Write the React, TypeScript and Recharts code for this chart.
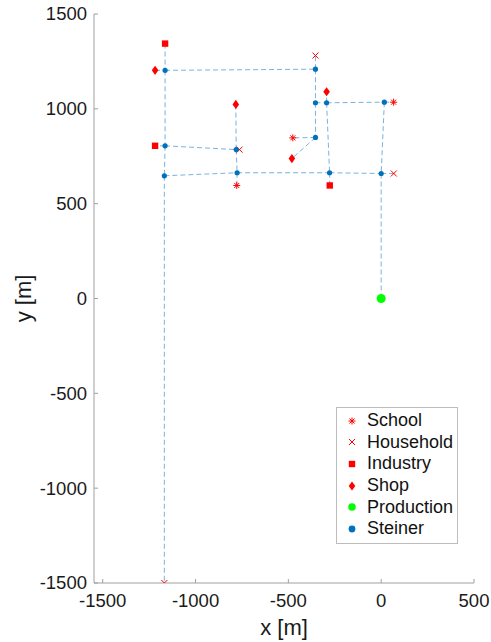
import React from "react";
import { ScatterChart, Scatter, XAxis, YAxis, Legend } from "recharts";

type Pt = { x: number; y: number };

// node positions [m]
const schoolPts: Pt[] = [
  { x: -778, y: 596 },
  { x: -476, y: 847 },
  { x: 67, y: 1035 },
];
const householdPts: Pt[] = [
  { x: -763, y: 785 },
  { x: -354, y: 1281 },
  { x: 68, y: 659 },
  { x: -1168, y: -1500 },
];
const industryPts: Pt[] = [
  { x: -1164, y: 1344 },
  { x: -1218, y: 805 },
  { x: -277, y: 596 },
];
const shopPts: Pt[] = [
  { x: -1218, y: 1203 },
  { x: -783, y: 1023 },
  { x: -294, y: 1090 },
  { x: -481, y: 738 },
];
const productionPts: Pt[] = [{ x: 0, y: 0 }];
const steinerPts: Pt[] = [
  { x: -1164, y: 1203 },
  { x: -1164, y: 805 },
  { x: -1168, y: 647 },
  { x: -781, y: 785 },
  { x: -776, y: 663 },
  { x: -354, y: 1209 },
  { x: -354, y: 1032 },
  { x: -294, y: 1032 },
  { x: 17, y: 1035 },
  { x: -354, y: 849 },
  { x: -278, y: 663 },
  { x: 0, y: 659 },
];

// tree edges, each one [from, to]
const edges: [Pt, Pt][] = [
  [{ x: -1164, y: 1344 }, { x: -1164, y: 1203 }],
  [{ x: -1218, y: 1203 }, { x: -1164, y: 1203 }],
  [{ x: -1164, y: 1203 }, { x: -354, y: 1209 }],
  [{ x: -1164, y: 1203 }, { x: -1164, y: 805 }],
  [{ x: -1164, y: 805 }, { x: -1218, y: 805 }],
  [{ x: -1164, y: 805 }, { x: -781, y: 785 }],
  [{ x: -1164, y: 805 }, { x: -1168, y: 647 }],
  [{ x: -1168, y: 647 }, { x: -776, y: 663 }],
  [{ x: -1168, y: 647 }, { x: -1168, y: -1500 }],
  [{ x: -781, y: 785 }, { x: -763, y: 785 }],
  [{ x: -781, y: 785 }, { x: -783, y: 1023 }],
  [{ x: -781, y: 785 }, { x: -776, y: 663 }],
  [{ x: -776, y: 663 }, { x: -778, y: 596 }],
  [{ x: -776, y: 663 }, { x: -278, y: 663 }],
  [{ x: -354, y: 1209 }, { x: -354, y: 1281 }],
  [{ x: -354, y: 1209 }, { x: -354, y: 1032 }],
  [{ x: -354, y: 1032 }, { x: -294, y: 1032 }],
  [{ x: -354, y: 1032 }, { x: -354, y: 849 }],
  [{ x: -354, y: 849 }, { x: -476, y: 847 }],
  [{ x: -354, y: 849 }, { x: -481, y: 738 }],
  [{ x: -294, y: 1032 }, { x: -294, y: 1090 }],
  [{ x: -294, y: 1032 }, { x: 17, y: 1035 }],
  [{ x: -294, y: 1032 }, { x: -278, y: 663 }],
  [{ x: 17, y: 1035 }, { x: 67, y: 1035 }],
  [{ x: 17, y: 1035 }, { x: 0, y: 659 }],
  [{ x: -278, y: 663 }, { x: -277, y: 596 }],
  [{ x: -278, y: 663 }, { x: 0, y: 659 }],
  [{ x: 0, y: 659 }, { x: 68, y: 659 }],
  [{ x: 0, y: 659 }, { x: 0, y: 0 }],
];

const xTicks = [-1500, -1000, -500, 0, 500];
const yTicks = [-1500, -1000, -500, 0, 500, 1000, 1500];

const RED = "#ff0000";
const FONT = '"Liberation Sans", Arial, Helvetica, sans-serif';
const AXIS = "#a0a0a0";

type Kind = "School" | "Household" | "Industry" | "Shop" | "Production" | "Steiner";

function marker(kind: Kind, cx: number, cy: number, big = false) {
  switch (kind) {
    case "School":
      return (
        <g stroke={RED} strokeWidth={1}>
          <line x1={cx - 3.5} y1={cy} x2={cx + 3.5} y2={cy} />
          <line x1={cx} y1={cy - 3.5} x2={cx} y2={cy + 3.5} />
          <line x1={cx - 2.5} y1={cy - 2.5} x2={cx + 2.5} y2={cy + 2.5} />
          <line x1={cx - 2.5} y1={cy + 2.5} x2={cx + 2.5} y2={cy - 2.5} />
        </g>
      );
    case "Household":
      return (
        <g stroke={RED} strokeWidth={1}>
          <line x1={cx - 3} y1={cy - 3} x2={cx + 3} y2={cy + 3} />
          <line x1={cx - 3} y1={cy + 3} x2={cx + 3} y2={cy - 3} />
        </g>
      );
    case "Industry":
      return <rect x={cx - 3.2} y={cy - 3.2} width={6.4} height={6.4} fill={RED} />;
    case "Shop":
      return (
        <polygon
          points={`${cx},${cy - 4.6} ${cx + 3.3},${cy} ${cx},${cy + 4.6} ${cx - 3.3},${cy}`}
          fill={RED}
        />
      );
    case "Production":
      return <circle cx={cx} cy={cy} r={big ? 3.8 : 4.5} fill="#00ff00" />;
    default:
      return <circle cx={cx} cy={cy} r={big ? 3.4 : 2.6} fill="#0072bd" />;
  }
}

const series: { name: Kind; data: Pt[] }[] = [
  { name: "School", data: schoolPts },
  { name: "Household", data: householdPts },
  { name: "Industry", data: industryPts },
  { name: "Shop", data: shopPts },
  { name: "Production", data: productionPts },
  { name: "Steiner", data: steinerPts },
];

const BottomTick = (p: any) => (
  <g>
    <line x1={p.x} y1={p.y} x2={p.x} y2={p.y - 4} stroke={AXIS} />
    <text x={p.x} y={p.y + 18} dy="0.35em" textAnchor="middle" fontSize={18.5} fontFamily={FONT} fill="#1a1a1a">
      {p.payload.value}
    </text>
  </g>
);
const LeftTick = (p: any) => (
  <g>
    <line x1={p.x} y1={p.y} x2={p.x + 4} y2={p.y} stroke={AXIS} />
    <text x={p.x - 7} y={p.y} dy="0.35em" textAnchor="end" fontSize={18.5} fontFamily={FONT} fill="#1a1a1a">
      {p.payload.value}
    </text>
  </g>
);
const TopTick = (p: any) => <line x1={p.x} y1={p.y} x2={p.x} y2={p.y + 4} stroke={AXIS} />;
const RightTick = (p: any) => <line x1={p.x} y1={p.y} x2={p.x - 4} y2={p.y} stroke={AXIS} />;

const LegendBox = () => (
  <div
    style={{
      border: "1px solid #bdbdbd",
      background: "#fff",
      padding: "2px 0 3px 0",
      fontFamily: FONT,
      fontSize: 18,
      color: "#111",
    }}
  >
    {series.map((s) => (
      <div key={s.name} style={{ display: "flex", alignItems: "center", height: 21.6 }}>
        <svg width={30} height={14} style={{ flex: "none" }}>
          {marker(s.name, 15, 7, true)}
        </svg>
        <span>{s.name}</span>
      </div>
    ))}
  </div>
);

export default function App() {
  return (
    <div style={{ position: "absolute", left: 0, top: 0, background: "#fff" }}>
      <ScatterChart width={491} height={642} margin={{ top: 14, right: 17, bottom: 0, left: 0 }}>
        <XAxis
          dataKey="x"
          type="number"
          domain={[-1547, 500]}
          ticks={xTicks}
          allowDataOverflow
          height={59}
          stroke={AXIS}
          tickLine={false}
          tickSize={0}
          tickMargin={0}
          tick={BottomTick}
          label={{
            content: ({ viewBox }: any) => (
              <text
                x={viewBox.x + viewBox.width / 2}
                y={viewBox.y + 44}
                dy="0.35em"
                textAnchor="middle"
                fontSize={22}
                fontFamily={FONT}
                fill="#1a1a1a"
              >
                x [m]
              </text>
            ),
          }}
        />
        <XAxis
          xAxisId="top"
          dataKey="x"
          type="number"
          orientation="top"
          domain={[-1547, 500]}
          ticks={xTicks}
          allowDataOverflow
          height={0}
          stroke={AXIS}
          tickLine={false}
          tickSize={0}
          tickMargin={0}
          tick={TopTick}
        />
        <YAxis
          dataKey="y"
          type="number"
          domain={[-1500, 1500]}
          ticks={yTicks}
          allowDataOverflow
          width={94}
          stroke={AXIS}
          tickLine={false}
          tickSize={0}
          tickMargin={0}
          tick={LeftTick}
          label={{
            content: ({ viewBox }: any) => {
              const cx = viewBox.x + 23;
              const cy = viewBox.y + viewBox.height / 2;
              return (
                <text
                  x={cx}
                  y={cy}
                  dy="0.35em"
                  textAnchor="middle"
                  fontSize={22}
                  fontFamily={FONT}
                  fill="#1a1a1a"
                  transform={`rotate(-90, ${cx}, ${cy})`}
                >
                  y [m]
                </text>
              );
            },
          }}
        />
        <YAxis
          yAxisId="right"
          dataKey="y"
          type="number"
          orientation="right"
          domain={[-1500, 1500]}
          ticks={yTicks}
          allowDataOverflow
          width={0}
          stroke={AXIS}
          tickLine={false}
          tickSize={0}
          tickMargin={0}
          tick={RightTick}
        />
        {edges.map((e, i) => (
          <Scatter
            key={`edge-${i}`}
            data={e}
            isAnimationActive={false}
            legendType="none"
            line={{ stroke: "#5b9fd2", strokeWidth: 1, strokeDasharray: "5 3", strokeOpacity: 0.8 }}
            shape={() => <g />}
          />
        ))}
        {series.map((s) => (
          <Scatter
            key={s.name}
            name={s.name}
            data={s.data}
            isAnimationActive={false}
            shape={(p: any) => marker(s.name, p.cx, p.cy)}
          />
        ))}
        <Legend
          layout="vertical"
          align="center"
          verticalAlign="middle"
          wrapperStyle={{ left: 336, top: 407, width: 122 }}
          content={() => <LegendBox />}
        />
      </ScatterChart>
    </div>
  );
}
